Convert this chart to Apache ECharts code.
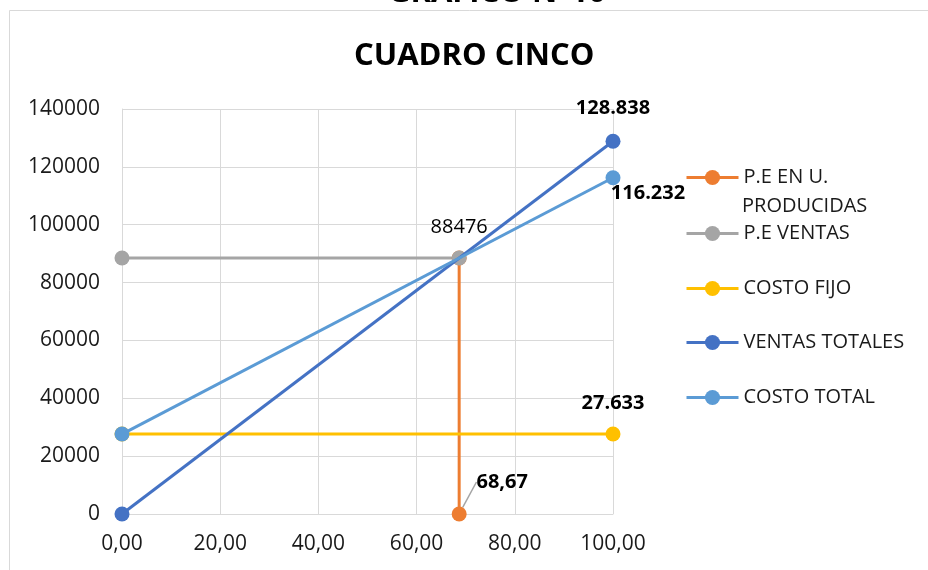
<!DOCTYPE html>
<html><head><meta charset="utf-8">
<script src="https://cdn.jsdelivr.net/npm/echarts@6/dist/echarts.min.js"></script>
<style>html,body{margin:0;padding:0;background:#fff}#c{width:928px;height:570px}</style>
</head><body><div id="c"></div>
<script>
// ---- data ----
const seriesNames = ['P.E EN U. PRODUCIDAS', 'P.E VENTAS', 'COSTO FIJO', 'VENTAS TOTALES', 'COSTO TOTAL'];
const legendFirstLine = 'P.E EN U.';
const legendSecondLine = 'PRODUCIDAS';
const peUnidadesX = [68.67, 68.67];
const peUnidadesY = [0, 88476];
const peUnidadesLabels = ['68,67', null];
const peVentasX = [0, 68.67];
const peVentasY = [88476, 88476];
const peVentasLabels = [null, '88476'];
const costoFijoX = [0, 100];
const costoFijoY = [27633, 27633];
const costoFijoLabels = [null, '27.633'];
const ventasTotalesX = [0, 100];
const ventasTotalesY = [0, 128838];
const ventasTotalesLabels = [null, '128.838'];
const costoTotalX = [0, 100];
const costoTotalY = [27633, 116232];
const costoTotalLabels = [null, '116.232'];
const xTickLabels = ['0,00', '20,00', '40,00', '60,00', '80,00', '100,00'];
const yTickLabels = ['0', '20000', '40000', '60000', '80000', '100000', '120000', '140000'];
const chartTitle = 'CUADRO CINCO';
const sheetTitle = 'GRAFICO N°10';

// ---- styling ----
const FONT = '"Open Sans", "Noto Sans", sans-serif';
const colors = ['#ED7D31', '#A5A5A5', '#FFC000', '#4472C4', '#5B9BD5'];
const labelStyles = [
  {offset: [0, 0], fontWeight: 'bold'},
  {offset: [0, -31], fontWeight: 'normal'},
  {offset: [0, -31], fontWeight: 'bold'},
  {offset: [0, -33], fontWeight: 'bold'},
  {offset: [35, 16], fontWeight: 'bold'}
];
const legendCenters = [177, 233, 288, 342, 397];

function buildData(xs, ys, labels, si) {
  return xs.map((x, i) => {
    const item = {value: [x, ys[i]]};
    if (labels[i]) {
      item.label = {
        show: true, formatter: labels[i], position: 'inside',
        offset: labelStyles[si].offset, fontWeight: labelStyles[si].fontWeight,
        fontSize: 20, fontFamily: FONT, color: '#000'
      };
      if (si === 0) {
        item.labelLine = {show: true, lineStyle: {color: '#A5A5A5', width: 1.5}};
      }
    } else {
      item.label = {show: false};
    }
    return item;
  });
}

const seriesDefs = [
  [peUnidadesX, peUnidadesY, peUnidadesLabels],
  [peVentasX, peVentasY, peVentasLabels],
  [costoFijoX, costoFijoY, costoFijoLabels],
  [ventasTotalesX, ventasTotalesY, ventasTotalesLabels],
  [costoTotalX, costoTotalY, costoTotalLabels]
];

const series = seriesDefs.map((d, si) => {
  const s = {
    name: seriesNames[si], type: 'line',
    data: buildData(d[0], d[1], d[2], si),
    symbol: 'circle', symbolSize: 15, showSymbol: true,
    lineStyle: {width: 3, color: colors[si]},
    itemStyle: {color: colors[si]},
    z: si >= 3 ? 3 : 2,
    animation: false
  };
  if (si === 0) {
    s.labelLayout = {dx: 43, dy: -32};
    s.labelLine = {show: true, lineStyle: {color: '#A5A5A5', width: 1.5}};
  }
  return s;
});

const legends = seriesNames.map((n, i) => ({
  data: [n], orient: 'vertical', left: 685,
  top: legendCenters[i] - 9.5,
  itemWidth: 52, itemHeight: 19, selectedMode: false,
  lineStyle: {width: 3},
  formatter: i === 0 ? () => legendFirstLine : undefined,
  textStyle: {fontSize: 20, fontFamily: FONT, color: '#1a1a1a'},
  padding: 0
}));

const chart = echarts.init(document.getElementById('c'), null, {renderer: 'canvas'});
chart.setOption({
  backgroundColor: '#fff',
  animation: false,
  color: colors,
  title: {
    text: chartTitle, left: 354, top: 41, padding: 0,
    textStyle: {fontSize: 31, fontWeight: 'bold', fontFamily: FONT, color: '#000'}
  },
  graphic: [
    {type: 'rect', shape: {x: 9.5, y: 10.5, width: 1000, height: 1000},
     style: {fill: 'none', stroke: '#D9D9D9', lineWidth: 1}, silent: true, z: -10},
    {type: 'text', x: 497, y: -7, silent: true,
     style: {text: sheetTitle, fontSize: 31, fontWeight: 'bold', fontFamily: FONT, fill: '#000',
             align: 'center', verticalAlign: 'middle'}},
    {type: 'text', x: 742, y: 206, silent: true,
     style: {text: legendSecondLine, fontSize: 20, fontFamily: FONT, fill: '#1a1a1a',
             align: 'left', verticalAlign: 'middle'}}
  ],
  legend: legends,
  grid: {left: 122, right: 315, top: 109, bottom: 56, containLabel: false},
  xAxis: {
    type: 'value', min: 0, max: 100, interval: 20,
    axisLine: {show: true, lineStyle: {color: '#D9D9D9', width: 1}},
    axisTick: {show: false},
    splitLine: {show: true, lineStyle: {color: '#D9D9D9', width: 1}},
    axisLabel: {
      margin: 20, fontSize: 21, fontFamily: FONT, color: '#1a1a1a',
      formatter: v => xTickLabels[Math.round(v / 20)]
    }
  },
  yAxis: {
    type: 'value', min: 0, max: 140000, interval: 20000,
    axisLine: {show: true, lineStyle: {color: '#D9D9D9', width: 1}},
    axisTick: {show: false},
    splitLine: {show: true, lineStyle: {color: '#D9D9D9', width: 1}},
    axisLabel: {
      margin: 22, fontSize: 21, fontFamily: FONT, color: '#1a1a1a',
      formatter: v => yTickLabels[Math.round(v / 20000)]
    }
  },
  series: series
});
</script>
</body></html>
